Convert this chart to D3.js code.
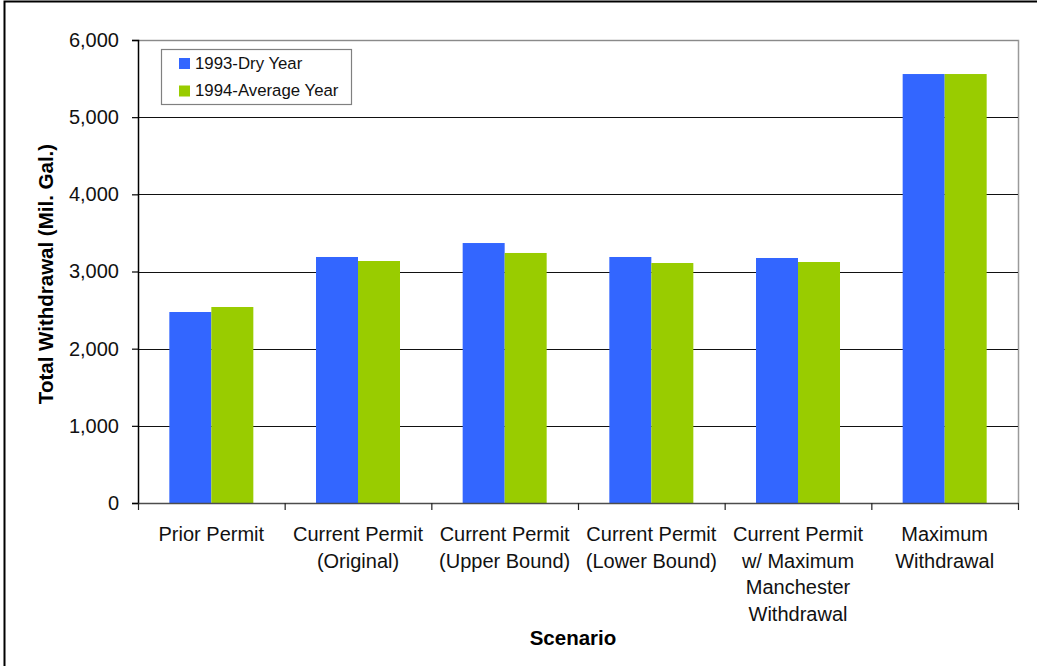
<!DOCTYPE html>
<html>
<head>
<meta charset="utf-8">
<script src="https://cdn.jsdelivr.net/npm/d3@7"></script>
<style>
  html, body { margin: 0; padding: 0; background: #fff; }
  svg { display: block; font-family: Arial, "Liberation Sans", sans-serif; }
</style>
</head>
<body>
<svg id="chart" width="1037" height="666"></svg>
<script>
// Scenario categories (each label split into lines)
const categories = [
  ["Prior Permit"],
  ["Current Permit", "(Original)"],
  ["Current Permit", "(Upper Bound)"],
  ["Current Permit", "(Lower Bound)"],
  ["Current Permit", "w/ Maximum", "Manchester", "Withdrawal"],
  ["Maximum", "Withdrawal"]
];
const seriesNames = ["1993-Dry Year", "1994-Average Year"];
const dryYear = [2475, 3188, 3369, 3188, 3175, 5559];
const averageYear = [2540, 3136, 3240, 3110, 3123, 5559];
const yTicks = [0, 1000, 2000, 3000, 4000, 5000, 6000];
const colors = ["#3366FF", "#99CC00"];

const svg = d3.select("#chart");
const W = 1037, H = 666;
const plot = { left: 138, right: 1018, top: 40, bottom: 503 };

// outer chart frame
svg.append("rect")
  .attr("x", 4.5).attr("y", 1.5)
  .attr("width", W + 10).attr("height", H + 10)
  .attr("fill", "#fff").attr("stroke", "#000").attr("stroke-width", 2);

const x = d3.scaleBand()
  .domain(d3.range(categories.length))
  .range([plot.left, plot.right])
  .paddingInner(0).paddingOuter(0);

const x1 = d3.scaleBand()
  .domain(d3.range(seriesNames.length))
  .range([0, x.bandwidth()])
  .paddingInner(0).paddingOuter(0.746);

const y = d3.scaleLinear().domain([0, 6000]).range([plot.bottom, plot.top]);

// plot area border (top and right)
svg.append("path")
  .attr("d", `M${plot.left},${plot.top + 0.5}H${plot.right + 0.5}V${plot.bottom}`)
  .attr("fill", "none").attr("stroke", "#9a9a9a").attr("stroke-width", 1.5);

// horizontal gridlines
svg.append("g")
  .selectAll("line")
  .data(yTicks.filter(d => d > 0))
  .join("line")
  .attr("x1", plot.left).attr("x2", plot.right)
  .attr("y1", d => Math.round(y(d)) + 0.5).attr("y2", d => Math.round(y(d)) + 0.5)
  .attr("stroke", d => d === 6000 ? "#8a8a8a" : "#111").attr("stroke-width", 1.2);

// bars
const data = categories.map((c, i) => [dryYear[i], averageYear[i]]);
svg.append("g")
  .selectAll("g")
  .data(data)
  .join("g")
  .attr("transform", (d, i) => `translate(${x(i)},0)`)
  .selectAll("rect")
  .data(d => d)
  .join("rect")
  .attr("x", (d, j) => x1(j))
  .attr("width", x1.bandwidth())
  .attr("y", d => y(d))
  .attr("height", d => y(0) - y(d))
  .attr("fill", (d, j) => colors[j]);

// y axis
const yAxis = d3.axisLeft(y)
  .tickValues(yTicks)
  .tickSize(6)
  .tickPadding(13)
  .tickFormat(d3.format(","));
const gy = svg.append("g")
  .attr("transform", `translate(${plot.left},0)`)
  .call(yAxis);
gy.select(".domain").attr("stroke", "#000").attr("stroke-width", 1.5);
gy.selectAll(".tick line").attr("stroke", "#000").attr("stroke-width", 1.2);
gy.selectAll(".tick text")
  .attr("font-size", 20).attr("fill", "#111")
  .attr("font-family", "Arial, 'Liberation Sans', sans-serif");

// x axis
const xAxis = d3.axisBottom(x).tickSize(0).tickFormat("");
const gx = svg.append("g")
  .attr("transform", `translate(0,${plot.bottom})`)
  .call(xAxis);
gx.select(".domain").attr("stroke", "#4d4d4d").attr("stroke-width", 1.6);
gx.selectAll(".tick").remove();

// category boundary tick marks
svg.append("g")
  .selectAll("line")
  .data(d3.range(categories.length + 1))
  .join("line")
  .attr("x1", i => (i < categories.length ? x(i) : plot.right) + 0.5)
  .attr("x2", i => (i < categories.length ? x(i) : plot.right) + 0.5)
  .attr("y1", plot.bottom).attr("y2", plot.bottom + 7)
  .attr("stroke", "#222").attr("stroke-width", 1.2);

// category labels
const lbl = svg.append("g")
  .selectAll("text")
  .data(categories)
  .join("text")
  .attr("text-anchor", "middle")
  .attr("font-size", 20)
  .attr("fill", "#111")
  .attr("x", (d, i) => x(i) + x.bandwidth() / 2)
  .attr("y", 541);
lbl.selectAll("tspan")
  .data(d => d)
  .join("tspan")
  .attr("x", function () { return d3.select(this.parentNode).attr("x"); })
  .attr("dy", (d, i) => i === 0 ? 0 : 26.7)
  .text(d => d);

// axis titles
svg.append("text")
  .attr("x", 573).attr("y", 645)
  .attr("text-anchor", "middle")
  .attr("font-size", 20.5).attr("font-weight", "bold").attr("fill", "#000")
  .text("Scenario");

svg.append("text")
  .attr("transform", "translate(53,274) rotate(-90)")
  .attr("text-anchor", "middle")
  .attr("font-size", 20.5).attr("font-weight", "bold").attr("fill", "#000")
  .text("Total Withdrawal (Mil. Gal.)");

// legend
const legend = svg.append("g");
legend.append("rect")
  .attr("x", 161.5).attr("y", 49.5).attr("width", 190).attr("height", 55)
  .attr("fill", "#fff").attr("stroke", "#808080").attr("stroke-width", 1.2);
const li = legend.selectAll("g")
  .data(seriesNames)
  .join("g")
  .attr("transform", (d, i) => `translate(179,${58 + i * 27.5})`);
li.append("rect")
  .attr("width", 11).attr("height", 11)
  .attr("fill", (d, i) => colors[i]);
li.append("text")
  .attr("x", 16).attr("y", 10.5)
  .attr("font-size", 16.8).attr("fill", "#111")
  .text(d => d);
</script>
</body>
</html>
